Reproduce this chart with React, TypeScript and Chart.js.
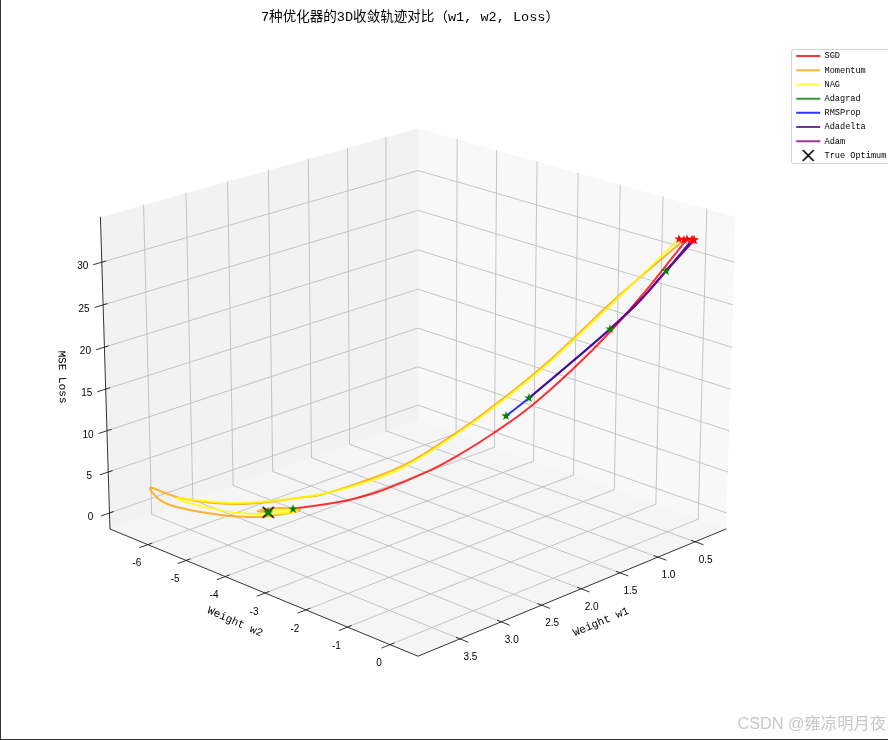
import React, { useEffect, useRef } from "react";
import { Chart, registerables } from "chart.js";

Chart.register(...registerables);

// ---- values ----
const SERIES_NAMES = ["SGD", "Momentum", "NAG", "Adagrad", "RMSProp", "Adadelta", "Adam"];
const SERIES_COLORS = [
  "rgba(255,0,0,0.8)",
  "rgba(255,165,0,0.8)",
  "rgba(255,255,0,0.8)",
  "rgba(0,128,0,0.8)",
  "rgba(0,0,255,0.8)",
  "rgba(75,0,130,0.8)",
  "rgba(128,0,128,0.8)",
];

const SGD_W1 = [0.373, 0.578, 0.657, 0.839, 1.067, 1.333, 1.565, 1.759, 1.962, 2.259, 2.469, 2.66, 2.787, 2.831];
const SGD_W2 = [0.067, -0.333, -0.486, -0.842, -1.286, -1.807, -2.259, -2.639, -3.034, -3.615, -4.024, -4.397, -4.645, -4.732];
const SGD_LOSS = [32.7, 27.68, 25.86, 21.8, 17.41, 12.86, 9.67, 7.31, 5.2, 2.81, 1.63, 0.98, 0.65, 0.49];

const MOMENTUM_W1 = [0.392, 0.824, 1.057, 1.304, 1.647, 1.962, 2.151, 2.36, 2.659, 2.805, 2.977, 3.148, 3.339, 3.548, 3.642, 3.736, 3.727, 3.593, 3.371, 3.19, 2.972, 2.792, 2.853, 3.032, 2.98];
const MOMENTUM_W2 = [0.031, -0.813, -1.268, -1.75, -2.42, -3.034, -3.404, -3.813, -4.396, -4.681, -5.016, -5.351, -5.723, -6.13, -6.315, -6.499, -6.182, -5.771, -5.213, -4.903, -4.697, -4.635, -5.022, -5.214, -5.06];
const MOMENTUM_LOSS = [32.59, 25.45, 21.21, 16.93, 11.78, 7.67, 5.61, 4.03, 2.2, 1.83, 1.34, 1.1, 1.22, 1.83, 2.45, 3.06, 1.9, 1.2, 0.7, 0.5, 0.45, 0.4, 0.15, 0.08, 0.01];

const NAG_W1 = [0.423, 0.824, 1.057, 1.304, 1.647, 1.962, 2.151, 2.36, 2.615, 2.894, 3.212, 3.453, 3.567, 3.483, 3.32, 3.142, 2.936, 2.813, 2.9, 2.98];
const NAG_W2 = [-0.03, -0.813, -1.268, -1.75, -2.42, -3.034, -3.404, -3.813, -4.309, -4.855, -5.475, -5.945, -6.168, -5.829, -5.322, -5.006, -4.721, -4.668, -5.0, -5.06];
const NAG_LOSS = [32.7, 25.21, 20.97, 16.69, 11.54, 7.43, 5.37, 3.79, 2.45, 1.59, 1.22, 1.59, 1.83, 1.3, 0.8, 0.5, 0.4, 0.3, 0.12, 0.01];

const ADAGRAD_W1 = [0.342, 0.414, 0.499];
const ADAGRAD_W2 = [0.128, -0.012, -0.177];
const ADAGRAD_LOSS = [32.59, 30.84, 28.97];

const RMSPROP_W1 = [0.342, 0.499, 0.656, 0.839, 1.067, 1.34, 1.484];
const RMSPROP_W2 = [0.128, -0.177, -0.484, -0.842, -1.288, -1.82, -2.101];
const RMSPROP_LOSS = [32.59, 28.97, 25.52, 22.15, 18.36, 13.94, 11.78];

const ADADELTA_W1 = [0.33, 0.499, 0.656, 0.839, 1.067, 1.34];
const ADADELTA_W2 = [0.152, -0.177, -0.484, -0.842, -1.288, -1.82];
const ADADELTA_LOSS = [32.59, 28.97, 25.52, 22.15, 18.36, 13.94];

const ADAM_W1 = [0.33, 0.499, 0.656, 0.839];
const ADAM_W2 = [0.152, -0.177, -0.484, -0.842];
const ADAM_LOSS = [32.59, 28.97, 25.52, 22.15];

const OPTIMUM_W1 = 2.98;
const OPTIMUM_W2 = -5.06;
const OPTIMUM_LOSS = 0.01;

const W1_TICKS = [0.5, 1.0, 1.5, 2.0, 2.5, 3.0, 3.5];
const W2_TICKS = [-6, -5, -4, -3, -2, -1, 0];
const LOSS_TICKS = [0, 5, 10, 15, 20, 25, 30];
const W1_TICK_LABELS = ["0.5", "1.0", "1.5", "2.0", "2.5", "3.0", "3.5"];
const W2_TICK_LABELS = ["-6", "-5", "-4", "-3", "-2", "-1", "0"];
const LOSS_TICK_LABELS = ["0", "5", "10", "15", "20", "25", "30"];

const W1_LIMITS = [0.077, 3.998];
const W2_LIMITS = [-7.01, 0.646];
const LOSS_LIMITS = [-1.97, 35.23];

const TITLE = "7种优化器的3D收敛轨迹对比（w1, w2, Loss）";
const WATERMARK = "CSDN @雍凉明月夜";

// ---- camera (elevation 20, azimuth 45, box 4:4:3) ----
const MONO = '"Liberation Mono", "Noto Sans CJK SC", monospace';
const BOX_A = 1.1905;
const BOX_C = 0.8929;
const E = [0.6645, 0.6645, 0.342];
const U = [-0.7071, 0.7071, 0];
const V = [-0.2418, -0.2418, 0.9397];
const DIST = 10;
const SCALE = 3715;
const CX = 418;
const CY = 375.5;
const TITLE_SIZE = 13.55;
const TITLE_BOX = TITLE_SIZE * 1.2;

type P = { x: number; y: number };

function project(w1: number, w2: number, loss: number): P {
  const p = [
    BOX_A * ((w1 - W1_LIMITS[0]) / (W1_LIMITS[1] - W1_LIMITS[0]) - 0.5),
    BOX_A * ((w2 - W2_LIMITS[0]) / (W2_LIMITS[1] - W2_LIMITS[0]) - 0.5),
    BOX_C * ((loss - LOSS_LIMITS[0]) / (LOSS_LIMITS[1] - LOSS_LIMITS[0]) - 0.5),
  ];
  const dot = (a: number[]) => a[0] * p[0] + a[1] * p[1] + a[2] * p[2];
  const d = DIST - dot(E);
  return { x: CX + (SCALE * dot(U)) / d, y: CY - (SCALE * dot(V)) / d };
}

const [W1A, W1B] = W1_LIMITS;
const [W2A, W2B] = W2_LIMITS;
const [LA, LB] = LOSS_LIMITS;

function makeStar(color: string, r: number) {
  const size = Math.ceil(r * 2) + 2;
  const c = document.createElement("canvas");
  c.width = size;
  c.height = size;
  const g = c.getContext("2d")!;
  g.fillStyle = color;
  g.beginPath();
  for (let i = 0; i < 10; i++) {
    const rad = i % 2 === 0 ? r : r * 0.382;
    const a = -Math.PI / 2 + (i * Math.PI) / 5;
    const px = size / 2 + rad * Math.cos(a);
    const py = size / 2 + rad * Math.sin(a);
    if (i === 0) g.moveTo(px, py);
    else g.lineTo(px, py);
  }
  g.closePath();
  g.fill();
  return c;
}

function makeCross(arm: number, width: number) {
  const size = Math.ceil(arm * 2) + 4;
  const c = document.createElement("canvas");
  c.width = size;
  c.height = size;
  const g = c.getContext("2d")!;
  const m = size / 2;
  g.strokeStyle = "#000";
  g.lineWidth = width;
  g.beginPath();
  g.moveTo(m - arm, m - arm);
  g.lineTo(m + arm, m + arm);
  g.moveTo(m + arm, m - arm);
  g.lineTo(m - arm, m + arm);
  g.stroke();
  return c;
}

const helperLine = (points: P[], color: string, width: number) => ({
  label: "",
  data: points,
  showLine: true,
  borderColor: color,
  borderWidth: width,
  pointRadius: 0,
  pointHoverRadius: 0,
  fill: false,
  tension: 0,
  helper: true,
});

export default function App() {
  const ref = useRef<HTMLCanvasElement>(null);

  useEffect(() => {
    const W1S = [SGD_W1, MOMENTUM_W1, NAG_W1, ADAGRAD_W1, RMSPROP_W1, ADADELTA_W1, ADAM_W1];
    const W2S = [SGD_W2, MOMENTUM_W2, NAG_W2, ADAGRAD_W2, RMSPROP_W2, ADADELTA_W2, ADAM_W2];
    const LS = [SGD_LOSS, MOMENTUM_LOSS, NAG_LOSS, ADAGRAD_LOSS, RMSPROP_LOSS, ADADELTA_LOSS, ADAM_LOSS];

    const gridColor = "rgb(190,190,190)";
    const gridSets: any[] = [];
    W1_TICKS.forEach((t) =>
      gridSets.push(helperLine([project(t, W2B, LA), project(t, W2A, LA), project(t, W2A, LB)], gridColor, 0.9))
    );
    W2_TICKS.forEach((t) =>
      gridSets.push(helperLine([project(W1B, t, LA), project(W1A, t, LA), project(W1A, t, LB)], gridColor, 0.9))
    );
    LOSS_TICKS.forEach((t) =>
      gridSets.push(helperLine([project(W1B, W2A, t), project(W1A, W2A, t), project(W1A, W2B, t)], gridColor, 0.9))
    );

    const black = "rgb(30,30,30)";
    const axisSets: any[] = [
      helperLine([project(W1B, W2A, LA), project(W1B, W2B, LA), project(W1A, W2B, LA)], black, 0.9),
      helperLine([project(W1B, W2A, LA), project(W1B, W2A, LB)], black, 0.9),
    ];
    const w1Pad = W1B - W1A;
    const w2Pad = W2B - W2A;
    W1_TICKS.forEach((t) =>
      axisSets.push(helperLine([project(t, W2B - 0.012 * w2Pad, LA), project(t, W2B + 0.024 * w2Pad, LA)], black, 0.9))
    );
    W2_TICKS.forEach((t) =>
      axisSets.push(helperLine([project(W1B - 0.012 * w1Pad, t, LA), project(W1B + 0.024 * w1Pad, t, LA)], black, 0.9))
    );
    LOSS_TICKS.forEach((t) =>
      axisSets.push(helperLine([project(W1B - 0.012 * w1Pad, W2A, t), project(W1B + 0.024 * w1Pad, W2A, t)], black, 0.9))
    );

    const seriesSets = SERIES_NAMES.map((name, i) => ({
      label: name,
      data: W1S[i].map((w, k) => project(w, W2S[i][k], LS[i][k])),
      showLine: true,
      borderColor: SERIES_COLORS[i],
      backgroundColor: SERIES_COLORS[i],
      borderWidth: 2,
      pointRadius: 0,
      pointHoverRadius: 0,
      tension: 0.4,
      fill: false,
    }));

    const crossImage = makeCross(5.5, 1.7);

    const optimumSet = {
      label: "True Optimum",
      data: [project(OPTIMUM_W1, OPTIMUM_W2, OPTIMUM_LOSS)],
      showLine: false,
      pointStyle: crossImage,
      pointRadius: 6.5,
      borderColor: "#000",
      backgroundColor: "#000",
    };

    const startSet = {
      ...helperLine(W1S.map((w, i) => project(w[0], W2S[i][0], LS[i][0])), "#f00", 0),
      showLine: false,
      pointRadius: 5,
      pointStyle: makeStar("#ff0000", 5),
    };
    const endSet = {
      ...helperLine(
        W1S.map((w, i) => {
          const n = w.length - 1;
          return project(w[n], W2S[i][n], LS[i][n]);
        }),
        "#008000",
        0
      ),
      showLine: false,
      pointRadius: 5,
      pointStyle: makeStar("#008000", 5),
    };

    const ordered: any[] = [...seriesSets, optimumSet, ...gridSets, ...axisSets, startSet, endSet];
    // the drawing order is: grid, axes, series, optimum, start stars, end stars
    const rank = (d: any) => {
      if (gridSets.includes(d)) return 100;
      if (axisSets.includes(d)) return 90;
      if (seriesSets.includes(d)) return 80 - seriesSets.indexOf(d);
      if (d === optimumSet) return 20;
      if (d === startSet) return 10;
      return 5;
    };
    ordered.forEach((d) => (d.order = rank(d)));

    const panes = [
      { color: "rgba(230,230,230,0.5)", pts: [[W1B, W2A, LA], [W1A, W2A, LA], [W1A, W2A, LB], [W1B, W2A, LB]] },
      { color: "rgba(242,242,242,0.5)", pts: [[W1A, W2A, LA], [W1A, W2B, LA], [W1A, W2B, LB], [W1A, W2A, LB]] },
      { color: "rgba(236,236,236,0.5)", pts: [[W1B, W2A, LA], [W1B, W2B, LA], [W1A, W2B, LA], [W1A, W2A, LA]] },
    ];

    const placeBlocks = {
      id: "placeBlocks",
      afterLayout(chart: any) {
        const t = chart.titleBlock;
        if (t) {
          t.left = 0;
          t.right = 820;
          t.top = 9.5;
          t.bottom = 9.5 + t.height;
        }
        const l = chart.legend;
        if (l) {
          l.left = 790.6;
          l.right = 888;
          l.top = 46.15;
          l.bottom = 170;
        }
      },
    };

    const panePlugin = {
      id: "panePlugin",
      beforeDatasetsDraw(chart: any) {
        const g = chart.ctx;
        const sx = chart.scales.x;
        const sy = chart.scales.y;
        g.save();
        panes.forEach((pane) => {
          g.fillStyle = pane.color;
          g.beginPath();
          pane.pts.forEach((c, i) => {
            const q = project(c[0], c[1], c[2]);
            const px = sx.getPixelForValue(q.x);
            const py = sy.getPixelForValue(q.y);
            if (i === 0) g.moveTo(px, py);
            else g.lineTo(px, py);
          });
          g.closePath();
          g.fill();
        });
        g.restore();
      },
    };

    const textPlugin = {
      id: "textPlugin",
      afterDraw(chart: any) {
        const g = chart.ctx;
        const sx = chart.scales.x;
        const sy = chart.scales.y;
        const at = (q: P) => [sx.getPixelForValue(q.x), sy.getPixelForValue(q.y)];
        g.save();
        g.textAlign = "center";
        g.textBaseline = "middle";
        g.fillStyle = "#000";
        g.font = '10px "Liberation Sans", sans-serif';
        W1_TICKS.forEach((t, i) => {
          const [px, py] = at(project(t, W2B, LA));
          g.fillText(W1_TICK_LABELS[i], px + 10.5, py + 18);
        });
        W2_TICKS.forEach((t, i) => {
          const [px, py] = at(project(W1B, t, LA));
          g.fillText(W2_TICK_LABELS[i], px - 11, py + 19);
        });
        LOSS_TICKS.forEach((t, i) => {
          const [px, py] = at(project(W1B, W2A, t));
          g.fillText(LOSS_TICK_LABELS[i], px - 19, py + 4.5);
        });

        const rotated = (s: string, x: number, y: number, deg: number) => {
          g.save();
          g.translate(x, y);
          g.rotate((deg * Math.PI) / 180);
          g.fillText(s, 0, 0);
          g.restore();
        };
        g.font = `11px ${MONO}`;
        rotated("Weight w2", 235, 622, 24);
        rotated("Weight w1", 601, 622, -23);
        rotated("MSE Loss", 62, 377, 88);

        g.font = '16.3px "Liberation Sans", "Noto Sans CJK SC", sans-serif';
        g.fillStyle = "rgb(200,200,200)";
        g.textAlign = "right";
        g.fillText(WATERMARK, 886, 725);

        // legend frame
        g.strokeStyle = "rgb(210,210,210)";
        g.lineWidth = 1;
        g.beginPath();
        g.roundRect(791.5, 49.5, 110, 114, 2);
        g.stroke();
        g.restore();
      },
    };

    const chart = new Chart(ref.current!, {
      type: "scatter",
      data: { datasets: ordered },
      plugins: [placeBlocks, panePlugin, textPlugin],
      options: {
        animation: false,
        responsive: false,
        devicePixelRatio: 1,
        layout: { padding: 0, autoPadding: false },
        events: [],
        scales: {
          x: { type: "linear", min: 0, max: 888, display: false },
          // the title block takes the top strip of the canvas, so the scale starts below it
          y: { type: "linear", min: TITLE_BOX, max: 740, reverse: true, display: false },
        },
        elements: { line: { borderCapStyle: "round", borderJoinStyle: "round" } },
        plugins: {
          tooltip: { enabled: false },
          title: {
            display: true,
            text: TITLE,
            position: "top",
            align: "center",
            color: "#000",
            padding: 0,
            font: { family: MONO, size: TITLE_SIZE, weight: "normal", lineHeight: 1.2 },
          },
          legend: {
            display: true,
            position: "chartArea" as any,
            align: "start",
            labels: {
              usePointStyle: true,
              pointStyleWidth: 24,
              padding: 5.6,
              color: "#000",
              font: { family: MONO, size: 8.6, lineHeight: 1.2 },
              generateLabels() {
                const rows: any[] = seriesSets.map((d, i) => ({
                  text: d.label,
                  strokeStyle: SERIES_COLORS[i],
                  fillStyle: SERIES_COLORS[i],
                  lineWidth: 2,
                  pointStyle: "line",
                  hidden: false,
                  fontColor: "#000",
                  datasetIndex: i,
                }));
                rows.push({
                  text: optimumSet.label,
                  strokeStyle: "#000",
                  fillStyle: "#000",
                  lineWidth: 1.5,
                  pointStyle: crossImage,
                  hidden: false,
                  fontColor: "#000",
                  datasetIndex: 7,
                });
                return rows;
              },
            },
          },
        },
      },
    } as any);
    return () => chart.destroy();
  }, []);

  return (
    <div style={{ position: "fixed", left: 0, top: 0, width: 888, height: 740, background: "#fff", overflow: "hidden" }}>
      <canvas ref={ref} width={888} height={740} style={{ display: "block", width: 888, height: 740 }} />
      <div
        style={{
          position: "absolute",
          left: 0,
          top: 0,
          width: 888,
          height: 740,
          boxSizing: "border-box",
          borderLeft: "1px solid #333",
          borderBottom: "1px solid #333",
          pointerEvents: "none",
        }}
      />
    </div>
  );
}
